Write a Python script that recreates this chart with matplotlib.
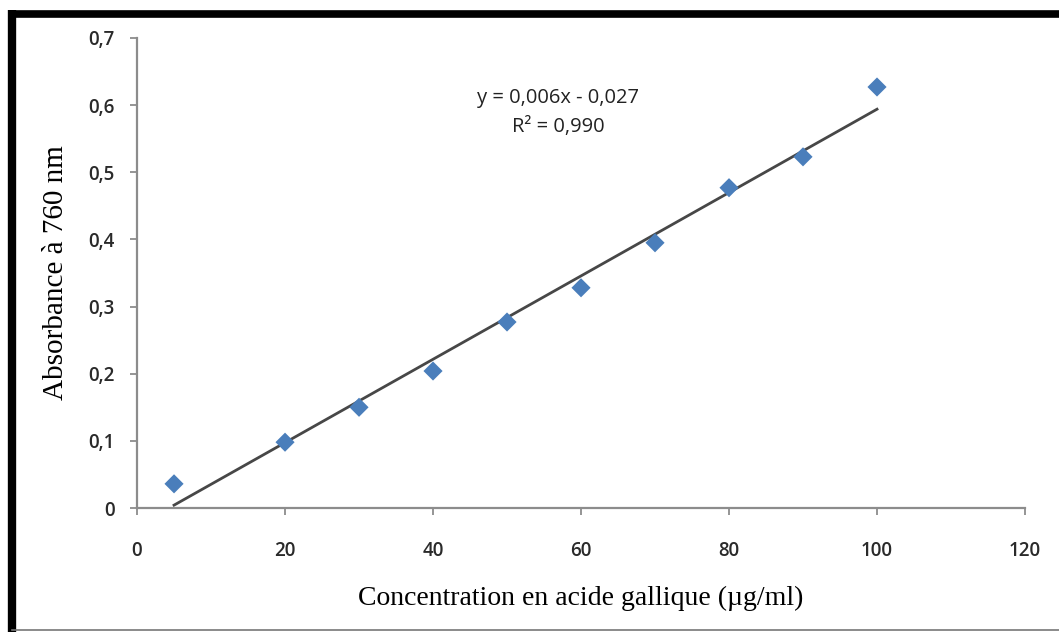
"""Courbe d'étalonnage de l'acide gallique (absorbance à 760 nm)."""

import numpy as np
import matplotlib
matplotlib.use("Agg")
import matplotlib.pyplot as plt
from matplotlib.lines import Line2D

# ---------------------------------------------------------------------------
# Données
# ---------------------------------------------------------------------------
concentration = [5, 20, 30, 40, 50, 60, 70, 80, 90, 100]
absorbance = [0.036, 0.098, 0.150, 0.204, 0.277, 0.328, 0.395, 0.477, 0.523, 0.627]

x_ticks = [0, 20, 40, 60, 80, 100, 120]
y_ticks = [0, 0.1, 0.2, 0.3, 0.4, 0.5, 0.6, 0.7]
equation_text = "y = 0,006x - 0,027\nR² = 0,990"

MARKER_COLOR = "#4a7ebb"
AXIS_COLOR = "#8c8c8c"
TICK_FONT = "Open Sans"
LABEL_FONT = "Liberation Serif"

fig = plt.figure(figsize=(10.59, 6.32), dpi=100)
ax = fig.add_axes([0.1294, 0.1962, 0.8385, 0.7437])

ax.scatter(concentration, absorbance, marker="D", s=95, color=MARKER_COLOR,
           edgecolors="none", zorder=3)

# courbe de tendance linéaire
coeffs = np.polyfit(concentration, absorbance, 1)
x_line = np.array([min(concentration), max(concentration)])
ax.plot(x_line, np.polyval(coeffs, x_line), color="#474747", linewidth=2, zorder=2)

ax.set_xlim(0, 120)
ax.set_ylim(0, 0.7)
ax.set_xticks(x_ticks)
ax.set_yticks(y_ticks)
ax.set_xticklabels([str(v) for v in x_ticks], fontfamily=TICK_FONT, fontsize=13.5,
                   color="#2a2a2a", fontweight="semibold")
ax.set_yticklabels([f"{v:g}".replace(".", ",") for v in y_ticks],
                   fontfamily=TICK_FONT, fontsize=13.5, color="#2a2a2a",
                   fontweight="semibold")
ax.tick_params(axis="both", direction="out", length=5, width=1.3, color=AXIS_COLOR)
ax.tick_params(axis="x", pad=19)
ax.tick_params(axis="y", pad=11)

for side in ("top", "right"):
    ax.spines[side].set_visible(False)
for side in ("left", "bottom"):
    ax.spines[side].set_color(AXIS_COLOR)
    ax.spines[side].set_linewidth(1.6)

ax.set_xlabel("Concentration en acide gallique (µg/ml)", fontfamily=LABEL_FONT,
              fontsize=20, labelpad=18)
ax.set_ylabel("Absorbance à 760 nm", fontfamily=LABEL_FONT, fontsize=21,
              labelpad=14)

ax.text(0.474, 0.842, equation_text, transform=ax.transAxes, ha="center",
        va="center", fontfamily=TICK_FONT, fontsize=14.5, color="#222222",
        linespacing=1.6, fontweight="medium")

# cadre noir de la capture
fig.add_artist(Line2D([12 / 1059, 12 / 1059], [0, 1 - 10 / 632], color="black",
                      linewidth=6, transform=fig.transFigure, solid_capstyle="butt"))
fig.add_artist(Line2D([8 / 1059, 1], [1 - 13.5 / 632, 1 - 13.5 / 632], color="black",
                      linewidth=5.5, transform=fig.transFigure, solid_capstyle="butt"))
fig.add_artist(Line2D([12 / 1059, 1], [1 - 630 / 632, 1 - 630 / 632], color="#777777",
                      linewidth=1.2, transform=fig.transFigure))

fig.savefig("out.png", dpi=100)
